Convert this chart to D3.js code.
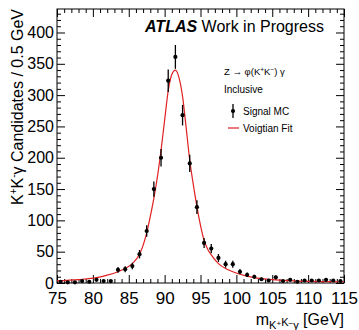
<!DOCTYPE html>
<html>
<head>
<meta charset="utf-8">
<script src="https://cdn.jsdelivr.net/npm/d3@7"></script>
<style>
  html, body { margin: 0; padding: 0; background: #fff; }
  svg { display: block; font-family: "Liberation Sans", Arial, Helvetica, sans-serif; }
</style>
</head>
<body>
<svg id="chart" width="359" height="330"></svg>
<script>
// ---- data ----
const massBins = [75.5,76.5,77.5,78.5,79.5,80.5,81.5,82.5,83.5,84.5,85.5,86.5,87.5,88.5,89.5,90.5,91.5,92.5,93.5,94.5,95.5,96.5,97.5,98.5,99.5,100.5,101.5,102.5,103.5,104.5,105.5,106.5,107.5,108.5,109.5,110.5,111.5,112.5,113.5,114.5];
const counts = [2,1,1,3,2,5,3,3,21,22,27,46,83,150,200,323,361,268,191,121,64,55,40,30,30,18,13,10,6,4,9,3,5,2,4,4,4,5,4,3];
const countErrors = [1.4,1,1,1.7,1.4,2.2,1.7,1.7,4.6,4.7,5.2,6.8,9.1,12.2,14.1,18,19,16.4,13.8,11,8,7.4,6.3,5.5,5.5,4.2,3.6,3.2,2.4,2,3,1.7,2.2,1.4,2,2,2,2.2,2,1.7];
const fitMass = [75,78,80.5,82,83.5,84.5,85.5,86.5,87,87.5,88,88.5,89,89.5,90,90.5,91,91.5,92,92.5,93,93.5,94,94.5,95,95.5,96,96.5,97.5,98.5,99.5,100.5,102.5,105,108,115];
const fitValues = [3.5,5.5,8.5,12.5,18,23,31,46,60,80,106,135,170,212,260,307,333,340,328,298,248,196,157,122,92,68,54,45,31,23,18,14,8.5,5.5,3.5,2];
const xMajorTicks = [75,80,85,90,95,100,105,110,115];
const yMajorTicks = [0,50,100,150,200,250,300,350,400];
const xDomain = [75,115];
const yDomain = [0,437.5];

// ---- layout ----
const L = 57, R = 344, T = 9, B = 283;
const svg = d3.select("#chart");
const x = d3.scaleLinear().domain(xDomain).range([L, R]);
const y = d3.scaleLinear().domain(yDomain).range([B, T]);

const xMinor = d3.range(xDomain[0], xDomain[1] + 0.001, 1).filter(v => !xMajorTicks.includes(v));
const yMinor = d3.range(0, yDomain[1], 10).filter(v => !yMajorTicks.includes(v));

function styleAxis(g) {
  g.select(".domain").remove();
  g.selectAll(".tick line").attr("stroke", "#000").attr("stroke-width", 1);
}

// bottom
svg.append("g").attr("transform", `translate(0,${B})`)
  .call(d3.axisBottom(x).tickValues(xMajorTicks).tickSize(-8).tickPadding(9).tickFormat(d3.format("d")))
  .call(styleAxis)
  .call(g => g.selectAll("text").attr("fill", "#000").attr("font-size", 17).attr("font-family", "Liberation Sans, Arial, sans-serif"));
svg.append("g").attr("transform", `translate(0,${B})`)
  .call(d3.axisBottom(x).tickValues(xMinor).tickSize(-4).tickFormat(""))
  .call(styleAxis);
// top
svg.append("g").attr("transform", `translate(0,${T})`)
  .call(d3.axisTop(x).tickValues(xMajorTicks).tickSize(-8).tickFormat(""))
  .call(styleAxis);
svg.append("g").attr("transform", `translate(0,${T})`)
  .call(d3.axisTop(x).tickValues(xMinor).tickSize(-4).tickFormat(""))
  .call(styleAxis);
// left
svg.append("g").attr("transform", `translate(${L},0)`)
  .call(d3.axisLeft(y).tickValues(yMajorTicks).tickSize(-8).tickPadding(3).tickFormat(d3.format("d")))
  .call(styleAxis)
  .call(g => g.selectAll("text").attr("fill", "#000").attr("font-size", 16).attr("font-family", "Liberation Sans, Arial, sans-serif"));
svg.append("g").attr("transform", `translate(${L},0)`)
  .call(d3.axisLeft(y).tickValues(yMinor).tickSize(-4).tickFormat(""))
  .call(styleAxis);
// right
svg.append("g").attr("transform", `translate(${R},0)`)
  .call(d3.axisRight(y).tickValues(yMajorTicks).tickSize(-8).tickFormat(""))
  .call(styleAxis);
svg.append("g").attr("transform", `translate(${R},0)`)
  .call(d3.axisRight(y).tickValues(yMinor).tickSize(-4).tickFormat(""))
  .call(styleAxis);

// frame
svg.append("rect").attr("x", L).attr("y", T).attr("width", R - L).attr("height", B - T)
  .attr("fill", "none").attr("stroke", "#000").attr("stroke-width", 1);

// fit curve
const fitData = fitMass.map((m, i) => [m, fitValues[i]]);
svg.append("path").datum(fitData)
  .attr("d", d3.line().x(d => x(d[0])).y(d => y(d[1])).curve(d3.curveMonotoneX))
  .attr("fill", "none").attr("stroke", "#e02020").attr("stroke-width", 1.2);

// data points
const pts = massBins.map((m, i) => ({m, v: counts[i], e: countErrors[i]}));
const pg = svg.append("g");
pg.selectAll("line.err").data(pts).join("line").attr("class", "err")
  .attr("x1", d => x(d.m)).attr("x2", d => x(d.m))
  .attr("y1", d => y(Math.max(0, d.v - d.e))).attr("y2", d => y(d.v + d.e))
  .attr("stroke", "#000").attr("stroke-width", 1.3);
pg.selectAll("circle").data(pts).join("circle")
  .attr("cx", d => x(d.m)).attr("cy", d => y(d.v)).attr("r", 2.1).attr("fill", "#000");

// ATLAS label
const atlas = svg.append("text").attr("x", 145).attr("y", 32).attr("font-size", 16).attr("fill", "#000");
atlas.append("tspan").attr("font-weight", "bold").attr("font-style", "italic").text("ATLAS");
atlas.append("tspan").text(" Work in Progress");

// legend text
const z = svg.append("text").attr("x", 224).attr("y", 75).attr("font-size", 9.5).attr("fill", "#000");
z.append("tspan").text("Z \u2192 \u03c6(K");
z.append("tspan").attr("dy", -3).attr("font-size", 6.5).text("+");
z.append("tspan").attr("dy", 3).text("K");
z.append("tspan").attr("dy", -3).attr("font-size", 6.5).text("\u2212");
z.append("tspan").attr("dy", 3).text(") \u03b3");
svg.append("text").attr("x", 224).attr("y", 93).attr("font-size", 10).attr("fill", "#000").text("Inclusive");

svg.append("line").attr("x1", 233).attr("x2", 233).attr("y1", 104).attr("y2", 118).attr("stroke", "#000").attr("stroke-width", 1.3);
svg.append("circle").attr("cx", 233).attr("cy", 111).attr("r", 2.1).attr("fill", "#000");
svg.append("text").attr("x", 243).attr("y", 115).attr("font-size", 10).attr("fill", "#000").text("Signal MC");
svg.append("line").attr("x1", 228).attr("x2", 239).attr("y1", 128).attr("y2", 128).attr("stroke", "#e02020").attr("stroke-width", 1.2);
svg.append("text").attr("x", 243).attr("y", 132).attr("font-size", 10).attr("fill", "#000").text("Voigtian Fit");

// x title
const xt = svg.append("text").attr("x", R).attr("y", 325).attr("text-anchor", "end").attr("font-size", 16).attr("fill", "#000");
xt.append("tspan").text("m");
xt.append("tspan").attr("dy", 4).attr("font-size", 11).text("K");
xt.append("tspan").attr("dy", -3).attr("font-size", 8).text("+");
xt.append("tspan").attr("dy", 0).attr("font-size", 11).text("K");
xt.append("tspan").attr("dy", 0).attr("font-size", 8).text("\u2212");
xt.append("tspan").attr("dy", 3).attr("font-size", 11).text("\u03b3");
xt.append("tspan").attr("dy", -4).text(" [GeV]");

// y title
const yt = svg.append("text").attr("transform", `translate(23,${T}) rotate(-90)`).attr("text-anchor", "end").attr("font-size", 16).attr("fill", "#000");
yt.append("tspan").text("K");
yt.append("tspan").attr("dy", -6).attr("font-size", 10).text("+");
yt.append("tspan").attr("dy", 6).text("K");
yt.append("tspan").attr("dy", -6).attr("font-size", 10).text("-");
yt.append("tspan").attr("dy", 6).text("\u03b3 Candidates / 0.5 GeV");
</script>
</body>
</html>
